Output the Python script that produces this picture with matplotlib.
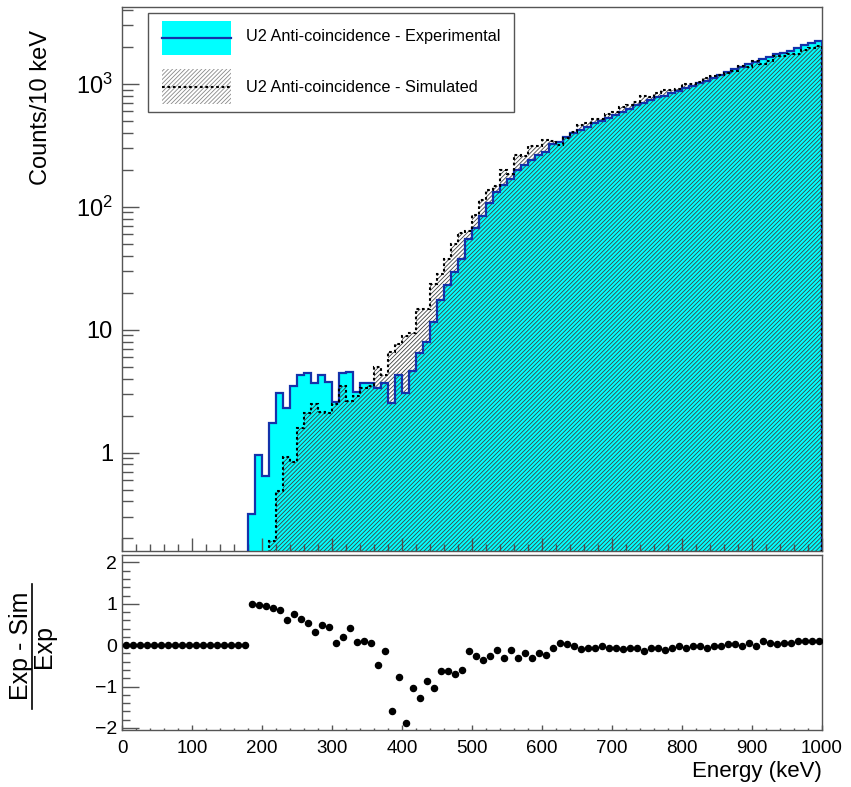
import numpy as np
import matplotlib
matplotlib.use("Agg")
import matplotlib.pyplot as plt
from matplotlib.patches import Rectangle
from matplotlib.lines import Line2D
from matplotlib.ticker import FixedLocator, FixedFormatter, MultipleLocator, NullFormatter

plt.rcParams['font.family'] = ['Liberation Sans', 'DejaVu Sans']
plt.rcParams['mathtext.fontset'] = 'custom'
plt.rcParams['mathtext.rm'] = 'Liberation Sans'
plt.rcParams['mathtext.it'] = 'Liberation Sans:italic'
plt.rcParams['mathtext.bf'] = 'Liberation Sans:bold'
plt.rcParams['hatch.linewidth'] = 0.6

# ---- data: 10 keV bins from 0 to 1000 keV ----
bin_edges = np.arange(0, 1010, 10)

exp_counts = [
    0, 0, 0, 0, 0, 0, 0, 0, 0, 0,
    0, 0, 0, 0, 0, 0, 0, 0, 0.317, 0.96,
    0.64, 1.73, 3.08, 2.30, 3.49, 4.29, 4.43, 3.67, 4.29, 3.74,
    2.60, 4.43, 4.56, 3.13, 3.71, 3.67, 3.34, 3.71, 2.52, 4.29,
    3.08, 4.6, 6.51, 7.91, 11.6, 17.3, 23.2, 29.7, 37.7, 54.8,
    67, 84.3, 107, 133, 151, 168, 200, 219, 241, 264,
    281, 325, 339, 373, 397, 422, 444, 479, 503, 530,
    560, 595, 630, 675, 704, 741, 779, 799, 840, 882,
    923, 964, 1013, 1064, 1120, 1175, 1259, 1317, 1382, 1455,
    1510, 1588, 1649, 1754, 1798, 1866, 1952, 2077, 2168, 2251,
]

sim_counts = [
    0, 0, 0, 0, 0, 0, 0, 0, 0, 0,
    0, 0, 0, 0, 0, 0, 0, 0, 0, 0.019,
    0.038, 0.19, 0.49, 0.92, 0.84, 1.59, 2.08, 2.50, 2.15, 2.09,
    2.47, 3.50, 2.64, 2.88, 3.34, 3.45, 4.94, 4.27, 6.55, 7.59,
    8.84, 9.34, 14.8, 14.8, 23.5, 28.2, 37.4, 50.2, 60.7, 63.0,
    85.1, 113.8, 135.9, 147.6, 199.3, 186.5, 264, 258.4, 313.3, 311.5,
    348.4, 344.5, 318.7, 361.8, 408.9, 464.2, 479.5, 517.3, 518.1, 572.4,
    593.6, 654.5, 680.4, 715.5, 802.6, 785.5, 841.3, 886.9, 890.4, 908.5,
    996.8, 992.9, 1043.4, 1127.8, 1153.6, 1186.8, 1221.2, 1277.5, 1395.8, 1367.7,
    1525.1, 1445.1, 1550.1, 1701.4, 1690.1, 1754.0, 1737.3, 1890.1, 1972.9, 2048.4,
]

legend_labels = ["U2 Anti-coincidence - Experimental", "U2 Anti-coincidence - Simulated"]

exp_arr = np.array(exp_counts, dtype=float)
sim_arr = np.array(sim_counts, dtype=float)
centers = 0.5 * (bin_edges[:-1] + bin_edges[1:])
ratio = np.divide(exp_arr - sim_arr, exp_arr, out=np.zeros_like(exp_arr), where=exp_arr > 0)

# ---- styling ----
W, H = 851, 787
CYAN = '#00ffff'
NAVY = '#1432aa'
HATCH = '#404040'
FRAME = '#555555'
ymin_top, ymax_top = 0.158, 4230

def fx(x):
    return x / W

def fy(y):
    return 1 - y / H

fig = plt.figure(figsize=(W / 100, H / 100), dpi=100)
ax = fig.add_axes([fx(122), fy(551), (822 - 122) / W, (551 - 7) / H])
ax2 = fig.add_axes([fx(122), fy(730), (822 - 122) / W, (730 - 555) / H])

# ---- spectrum panel ----
low = 0.1
exp_plot = np.where(exp_arr > 0, exp_arr, low)
sim_plot = np.where(sim_arr > 0, sim_arr, low)

ax.set_yscale('log')
ax.stairs(exp_plot, bin_edges, baseline=low, fill=True, facecolor=CYAN,
          edgecolor='none', linewidth=0, zorder=1)
ax.stairs(sim_plot, bin_edges, baseline=low, fill=True, facecolor='none',
          edgecolor=HATCH, hatch='////////', linewidth=0, zorder=2)
ax.stairs(exp_plot, bin_edges, baseline=low, fill=False, color=NAVY,
          linewidth=1.6, zorder=3)
ax.stairs(sim_plot, bin_edges, baseline=low, fill=False, color='black',
          linewidth=1.5, linestyle=(0, (1.3, 1.3)), zorder=4)

ax.set_xlim(0, 1000)
ax.set_ylim(ymin_top, ymax_top)
ax.yaxis.set_major_locator(FixedLocator([1, 10, 100, 1000]))
ax.yaxis.set_major_formatter(FixedFormatter(['1', '10', r'$10^{2}$', r'$10^{3}$']))
minor_vals = [m * 10.0 ** e for e in range(-1, 4) for m in range(2, 10)]
ax.yaxis.set_minor_locator(FixedLocator(minor_vals))
ax.yaxis.set_minor_formatter(NullFormatter())
ax.xaxis.set_major_locator(MultipleLocator(100))
ax.xaxis.set_minor_locator(MultipleLocator(20))
ax.tick_params(axis='x', which='both', labelbottom=False)
ax.tick_params(axis='both', which='both', direction='in', top=False, right=False,
               color=FRAME, width=1.0)
ax.tick_params(axis='x', which='major', length=9.4)
ax.tick_params(axis='x', which='minor', length=4.7)
ax.tick_params(axis='y', which='major', length=12, labelsize=17, pad=6.5)
ax.tick_params(axis='y', which='minor', length=8)

# ---- ratio panel ----
ax2.plot(centers, ratio, 'o', color='black', markersize=4.4, zorder=3)
ax2.set_xlim(0, 1000)
ax2.set_ylim(-2.05, 2.18)
ax2.yaxis.set_minor_locator(MultipleLocator(0.2))
ax2.xaxis.set_major_locator(MultipleLocator(100))
ax2.xaxis.set_minor_locator(MultipleLocator(20))
ax2.set_yticks([-2, -1, 0, 1, 2])
ax2.set_yticklabels(['\u22122', '\u22121', '0', '1', '2'])
ax2.tick_params(axis='both', which='both', direction='in', top=False, right=False,
                color=FRAME, width=1.0)
ax2.tick_params(axis='x', which='major', length=3.6, labelsize=13.5, pad=7)
ax2.tick_params(axis='x', which='minor', length=1.8)
ax2.tick_params(axis='y', which='major', length=12, labelsize=14, pad=3.6)
ax2.tick_params(axis='y', which='minor', length=6)

for a in (ax, ax2):
    for sp in a.spines.values():
        sp.set_color(FRAME)
        sp.set_linewidth(1.0)

# ---- axis titles ----
fig.text(fx(41), fy(30), 'Counts/10 keV', rotation=90, ha='center', va='top', fontsize=17)
# ratio title drawn as a stacked fraction
fig.text(fx(21), fy(646), 'Exp - Sim', rotation=90, ha='center', va='center', fontsize=18)
fig.add_artist(Line2D([fx(32), fx(32)], [fy(584), fy(709)], transform=fig.transFigure,
                      color='black', linewidth=1.2))
fig.text(fx(44), fy(646), 'Exp', rotation=90, ha='center', va='center', fontsize=18)
fig.text(fx(822), fy(771), 'Energy (keV)', ha='right', va='center', fontsize=16)

# ---- legend ----
fig.add_artist(Rectangle((fx(148), fy(112)), (514 - 148) / W, (112 - 13) / H,
                         transform=fig.transFigure, facecolor='white', edgecolor=FRAME,
                         linewidth=1.0, zorder=5))
fig.add_artist(Rectangle((fx(162), fy(55)), (231 - 162) / W, (55 - 21) / H,
                         transform=fig.transFigure, facecolor=CYAN, edgecolor='none',
                         linewidth=0, zorder=6))
fig.add_artist(Line2D([fx(162), fx(231)], [fy(38), fy(38)], transform=fig.transFigure,
                      color=NAVY, linewidth=1.6, zorder=7))
fig.add_artist(Rectangle((fx(162), fy(104)), (231 - 162) / W, (104 - 69) / H,
                         transform=fig.transFigure, facecolor='none', edgecolor='#888888',
                         hatch='////////', linewidth=0, zorder=6))
fig.add_artist(Line2D([fx(162), fx(231)], [fy(87), fy(87)], transform=fig.transFigure,
                      color='black', linewidth=1.5, linestyle=(0, (1.3, 1.3)), zorder=7))
fig.text(fx(246), fy(37), legend_labels[0], ha='left', va='center', fontsize=11.7, zorder=8)
fig.text(fx(246), fy(87), legend_labels[1], ha='left', va='center', fontsize=11.7, zorder=8)

fig.savefig('out.png', dpi=100)
